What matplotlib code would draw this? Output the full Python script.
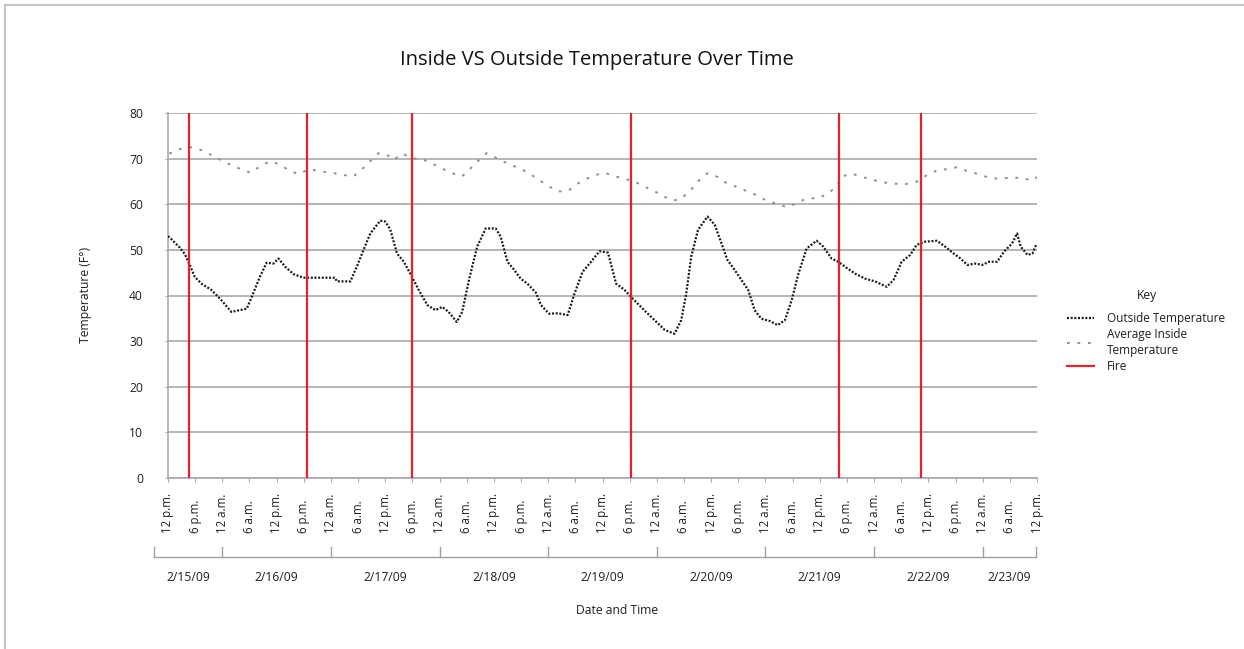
import matplotlib
matplotlib.use("Agg")
import matplotlib.pyplot as plt
from matplotlib.lines import Line2D
import numpy as np

plt.rcParams['font.family'] = ['Open Sans', 'DejaVu Sans']

# ---------------- data ----------------
# hours after 2/15/09 12 p.m.
outside_hours = [0.0, 0.4, 2.6, 3.7, 4.8, 5.9, 7.4, 9.6, 11.5, 14.0, 15.9, 17.4, 18.8, 20.3, 21.8,
                 23.3, 24.4, 25.9, 27.7, 29.9, 33.0, 36.9, 37.3, 40.3, 41.7, 43.2, 44.7, 46.9,
                 48.0, 49.1, 50.6, 52.1, 53.9, 55.4, 57.3, 59.1, 60.6, 62.0, 63.8, 65.0, 66.5,
                 68.3, 70.2, 72.4, 73.5, 75.0, 76.5, 77.9, 79.4, 81.3, 82.4, 84.2, 86.1, 88.3,
                 89.8, 91.6, 93.5, 95.3, 97.2, 97.9, 99.0, 100.8, 102.3, 103.8, 105.6, 107.5,
                 109.7, 111.9, 113.4, 114.5, 115.6, 117.1, 119.2, 120.8, 122.3, 123.6, 125.2,
                 126.7, 128.2, 129.6, 131.1, 133.0, 134.7, 136.3, 137.8, 139.3, 141.1, 143.3,
                 144.8, 146.6, 148.1, 149.6, 151.8, 154.0, 156.2, 158.8, 160.3, 162.1, 164.0,
                 165.4, 167.3, 169.9, 171.7, 173.6, 175.1, 176.6, 178.4, 179.9, 181.4, 183.2,
                 184.7, 186.5, 187.6, 188.4, 189.9, 191.0, 191.8]
outside_temp = [53.0, 52.7, 50.5, 49.1, 46.7, 44.1, 42.6, 41.2, 39.3, 36.4, 36.8, 37.1, 40.4, 44.1,
                47.2, 47.0, 48.1, 46.3, 44.7, 43.9, 43.9, 43.9, 43.1, 43.1, 46.3, 50.0, 53.6,
                56.4, 56.2, 54.5, 49.2, 47.4, 44.1, 41.2, 37.9, 36.8, 37.5, 36.4, 34.2, 36.4,
                43.4, 50.7, 54.7, 54.7, 52.9, 47.4, 45.6, 43.7, 42.6, 40.6, 37.9, 36.0, 36.1,
                35.7, 40.4, 45.2, 47.4, 49.7, 49.4, 46.8, 42.6, 41.3, 39.7, 38.2, 36.4, 34.6,
                32.5, 31.6, 34.6, 40.4, 48.5, 54.4, 57.3, 55.5, 51.4, 47.8, 45.6, 43.4, 41.2,
                36.8, 34.9, 34.4, 33.5, 34.6, 39.0, 44.8, 50.3, 52.0, 50.7, 48.1, 47.4, 46.3,
                44.8, 43.7, 43.1, 41.9, 43.4, 47.4, 48.9, 51.1, 51.8, 52.0, 50.7, 49.2, 48.1,
                46.7, 47.0, 46.7, 47.4, 47.4, 49.6, 51.4, 53.6, 50.7, 48.9, 49.2, 51.1]

inside_hours = [0.3, 3.0, 5.0, 7.2, 9.6, 11.8, 13.9, 16.1, 18.3, 20.3, 22.5, 24.6, 26.6, 28.8,
                31.2, 33.8, 36.2, 38.8, 41.0, 42.9, 44.7, 46.5, 48.6, 49.9, 51.7, 53.9, 56.2,
                58.4, 60.6, 62.8, 65.0, 66.9, 68.7, 70.4, 72.4, 75.3, 77.9, 79.9, 82.0, 84.2,
                86.2, 88.4, 90.3, 92.3, 94.4, 96.4, 98.6, 100.8, 102.7, 104.9, 107.1, 109.3,
                111.6, 113.4, 115.5, 117.2, 119.2, 121.2, 123.1, 125.4, 127.8, 130.0, 132.2,
                134.5, 136.9, 139.1, 141.2, 143.7, 145.9, 147.7, 148.9, 151.1, 153.7, 155.9,
                158.1, 160.5, 162.9, 165.5, 167.7, 169.9, 172.1, 174.3, 176.7, 179.1, 181.7,
                184.1, 186.3, 188.7, 191.1, 192.0]
inside_temp = [71.1, 72.2, 72.5, 71.9, 70.8, 69.6, 68.6, 67.7, 66.9, 68.3, 69.4, 68.8, 67.5, 66.6,
               67.7, 67.2, 66.9, 66.4, 66.1, 67.7, 69.5, 71.2, 70.7, 69.7, 71.1, 70.1, 69.9,
               68.9, 67.8, 66.8, 66.1, 67.9, 69.7, 71.2, 70.2, 68.8, 67.8, 66.7, 65.3, 63.9,
               62.8, 62.9, 64.4, 65.5, 66.4, 66.9, 66.2, 65.5, 65.2, 64.0, 63.1, 61.8, 60.8,
               61.2, 63.1, 65.1, 66.8, 66.1, 64.8, 63.9, 62.9, 62.0, 60.8, 60.1, 59.3, 60.4,
               61.3, 61.3, 62.4, 63.9, 66.1, 66.7, 65.9, 65.3, 64.8, 64.5, 64.4, 65.0, 66.4,
               67.4, 67.7, 68.1, 67.2, 66.6, 65.7, 65.6, 65.9, 65.7, 65.2, 66.0]

fire_hours = [4.6, 30.8, 53.9, 102.4, 148.3, 166.4]

time_tick_labels = ['12 p.m.', '6 p.m.', '12 a.m.', '6 a.m.']
date_labels = ['2/15/09', '2/16/09', '2/17/09', '2/18/09', '2/19/09',
               '2/20/09', '2/21/09', '2/22/09', '2/23/09']
y_ticks = [0, 10, 20, 30, 40, 50, 60, 70, 80]

# ---------------- figure ----------------
W, H = 1244, 649
fig = plt.figure(figsize=(W / 100, H / 100), dpi=100)
fig.patch.set_facecolor('white')

# figure border (top and left)
fig.add_artist(Line2D([4.5 / W, 4.5 / W], [0, 1 - 4.5 / H], color='#c4c4c4', lw=1.5))
fig.add_artist(Line2D([4.5 / W, 1], [1 - 4.5 / H, 1 - 4.5 / H], color='#c4c4c4', lw=1.5))

ax = fig.add_axes([168 / W, 1 - 478 / H, (1037 - 168) / W, 365 / H])
ax.set_xlim(0, 192)
ax.set_ylim(0, 80)

grid_c = '#a9a9a9'
txt_c = '#1e1e1e'
ax.set_yticks(y_ticks)
ax.yaxis.grid(True, color=grid_c, lw=1.2)
ax.set_axisbelow(True)
for s in ['top', 'right']:
    ax.spines[s].set_visible(False)
for s in ['left', 'bottom']:
    ax.spines[s].set_color(grid_c)
    ax.spines[s].set_linewidth(1.2)

ax.tick_params(axis='y', length=2.5, color=grid_c, pad=15.5, labelsize=8.7, labelcolor=txt_c)

xt = np.arange(0, 193, 6)
ax.set_xticks(xt)
ax.set_xticklabels([time_tick_labels[i % 4] for i in range(len(xt))],
                   rotation=90, va='bottom', ha='center', fontsize=8.3, color=txt_c)
ax.tick_params(axis='x', length=3, color=grid_c, pad=36.5)

# data lines
ax.plot(inside_hours, inside_temp, color='#8e8e8e', lw=1.4, dashes=(1.4, 4.0),
        label='Average Inside\nTemperature', zorder=3)
ax.plot(outside_hours, outside_temp, color='#1a1a1a', lw=1.6, dashes=(0.9, 0.75),
        label='Outside Temperature', zorder=4)
for i, fh in enumerate(fire_hours):
    ax.axvline(fh, color='#e8202a', lw=1.6, zorder=5, label='Fire' if i == 0 else None)

# date bracket under the tick labels
bounds = [-3.2] + list(np.arange(12, 181, 24)) + [191.7]
xtr = ax.get_xaxis_transform()
ax.plot([bounds[0], bounds[-1]], [-0.2156, -0.2156], transform=xtr, clip_on=False,
        color='#a0a0a0', lw=1.0)
for b in bounds:
    ax.plot([b, b], [-0.2156, -0.188], transform=xtr, clip_on=False, color='#a0a0a0', lw=1.0)
for i, lab in enumerate(date_labels):
    cx = (bounds[i] + bounds[i + 1]) / 2
    ax.text(cx, -0.272, lab, transform=xtr, ha='center', va='center', fontsize=8.7,
            color=txt_c)

# titles and labels
fig.text(596.5 / W, 1 - 60 / H, 'Inside VS Outside Temperature Over Time', ha='center',
         va='center', fontsize=14.5, color='#111111')
fig.text(617 / W, 1 - 611 / H, 'Date and Time', ha='center', va='center', fontsize=8.7,
         color=txt_c)
fig.text(86 / W, 1 - 295 / H, 'Temperature (F\u00b0)', ha='center', va='center',
         rotation=90, fontsize=8.7, color=txt_c)

# legend
fig.text(1147 / W, 1 - 295 / H, 'Key', ha='center', va='center', fontsize=8.7, color=txt_c)
handles, labels = ax.get_legend_handles_labels()
order = [labels.index('Outside Temperature'), labels.index('Average Inside\nTemperature'),
         labels.index('Fire')]
leg = ax.legend([handles[i] for i in order], [labels[i] for i in order],
                loc='upper left', bbox_to_anchor=(1067 / W, 1 - 312 / H),
                bbox_transform=fig.transFigure, frameon=False, fontsize=8.5,
                handlelength=2.3, handletextpad=1.1, labelspacing=0.25,
                borderpad=0, borderaxespad=0)
for t in leg.get_texts():
    t.set_color(txt_c)
    t.set_linespacing(1.3)

fig.savefig('out.png', dpi=100, facecolor='white')
